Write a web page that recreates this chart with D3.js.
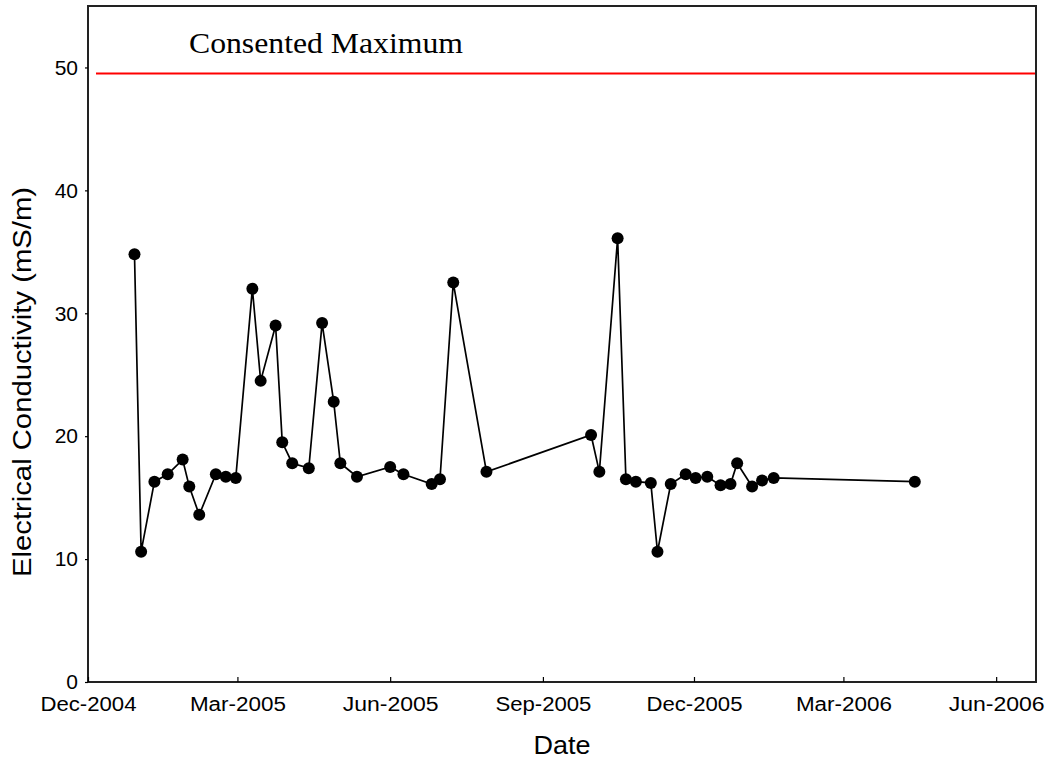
<!DOCTYPE html>
<html>
<head>
<meta charset="utf-8">
<script src="https://cdn.jsdelivr.net/npm/d3@7/dist/d3.min.js"></script>
<style>
  html, body { margin: 0; padding: 0; background: #fff; }
  svg { display: block; }
</style>
</head>
<body>
<svg id="chart" width="1052" height="763"></svg>
<script>
// ---- data ----
const sampleDates = [
  "2004-12-29","2005-01-02","2005-01-10","2005-01-18","2005-01-27","2005-01-31",
  "2005-02-06","2005-02-16","2005-02-22","2005-02-28","2005-03-10","2005-03-15",
  "2005-03-24","2005-03-28","2005-04-03","2005-04-13","2005-04-21","2005-04-28",
  "2005-05-02","2005-05-12","2005-06-01","2005-06-09","2005-06-26","2005-07-01",
  "2005-07-09","2005-07-29","2005-09-30","2005-10-05","2005-10-16","2005-10-21",
  "2005-10-27","2005-11-05","2005-11-09","2005-11-17","2005-11-26","2005-12-02",
  "2005-12-09","2005-12-17","2005-12-23","2005-12-27","2006-01-05","2006-01-11",
  "2006-01-18","2006-04-13"
];
const conductivity = [
  34.8, 10.6, 16.3, 16.9, 18.1, 15.9,
  13.6, 16.9, 16.7, 16.6, 32.0, 24.5,
  29.0, 19.5, 17.8, 17.4, 29.2, 22.8,
  17.8, 16.7, 17.5, 16.9, 16.1, 16.5,
  32.5, 17.1, 20.1, 17.1, 36.1, 16.5,
  16.3, 16.2, 10.6, 16.1, 16.9, 16.6,
  16.7, 16.0, 16.1, 17.8, 15.9, 16.4,
  16.6, 16.3
];
const xTickDates = ["2004-12-01","2005-03-01","2005-06-01","2005-09-01","2005-12-01","2006-03-01","2006-06-01"];
const xTickLabels = ["Dec-2004","Mar-2005","Jun-2005","Sep-2005","Dec-2005","Mar-2006","Jun-2006"];
const yTicks = [0, 10, 20, 30, 40, 50];
const xDomain = ["2004-12-01", "2006-06-25"];
const yDomain = [0, 55];
const consentedMaximum = 49.5;
const consentedLabel = "Consented Maximum";
const xTitle = "Date";
const yTitle = "Electrical Conductivity (mS/m)";

// ---- layout ----
const parse = d3.utcParse("%Y-%m-%d");
const svg = d3.select("#chart");
const L = 88, R = 1036, T = 6, B = 682;

const x = d3.scaleUtc().domain(xDomain.map(parse)).range([L, R]);
const y = d3.scaleLinear().domain(yDomain).range([B, T]);

const data = sampleDates.map((d, i) => ({ date: parse(d), value: conductivity[i] }));

// consented maximum line
svg.append("line")
  .attr("x1", L + 8).attr("x2", R - 1)
  .attr("y1", y(consentedMaximum)).attr("y2", y(consentedMaximum))
  .attr("stroke", "#ff0000").attr("stroke-width", 2);

svg.append("text")
  .attr("x", 189).attr("y", 53)
  .attr("font-family", "'Liberation Serif', 'Times New Roman', serif")
  .attr("font-size", 29)
  .attr("textLength", 274)
  .attr("lengthAdjust", "spacingAndGlyphs")
  .attr("fill", "#000")
  .text(consentedLabel);

// data line
svg.append("path")
  .datum(data)
  .attr("fill", "none")
  .attr("stroke", "#000")
  .attr("stroke-width", 1.7)
  .attr("d", d3.line().x(d => x(d.date)).y(d => y(d.value)));

svg.append("g").selectAll("circle")
  .data(data).join("circle")
  .attr("cx", d => x(d.date)).attr("cy", d => y(d.value))
  .attr("r", 6).attr("fill", "#000");

// frame
svg.append("rect")
  .attr("x", L).attr("y", T).attr("width", R - L).attr("height", B - T)
  .attr("fill", "none").attr("stroke", "#222").attr("stroke-width", 2);

// x axis
const xAxis = d3.axisBottom(x)
  .tickValues(xTickDates.map(parse))
  .tickFormat((d, i) => xTickLabels[i])
  .tickSizeInner(-5).tickSizeOuter(0).tickPadding(15);
const gx = svg.append("g").attr("transform", `translate(0,${B})`).call(xAxis);
gx.select(".domain").remove();
gx.selectAll("line").attr("stroke", "#000").attr("stroke-width", 1.2);
gx.selectAll("text")
  .attr("font-family", "'Liberation Sans', Arial, sans-serif")
  .attr("font-size", 20).attr("fill", "#000")
  .attr("textLength", 96).attr("lengthAdjust", "spacingAndGlyphs");

// y axis
const yAxis = d3.axisLeft(y)
  .tickValues(yTicks)
  .tickSizeInner(3).tickSizeOuter(0).tickPadding(7);
const gy = svg.append("g").attr("transform", `translate(${L},0)`).call(yAxis);
gy.select(".domain").remove();
gy.selectAll("line").attr("stroke", "#000").attr("stroke-width", 1.2);
gy.selectAll("text")
  .attr("font-family", "'Liberation Sans', Arial, sans-serif")
  .attr("font-size", 21).attr("fill", "#000");

// titles
svg.append("text")
  .attr("x", (L + R) / 2).attr("y", 754)
  .attr("text-anchor", "middle")
  .attr("font-family", "'Liberation Sans', Arial, sans-serif")
  .attr("font-size", 25).attr("fill", "#000")
  .attr("textLength", 57).attr("lengthAdjust", "spacingAndGlyphs")
  .text(xTitle);

svg.append("text")
  .attr("transform", `translate(31,382) rotate(-90)`)
  .attr("text-anchor", "middle")
  .attr("font-family", "'Liberation Sans', Arial, sans-serif")
  .attr("font-size", 25).attr("fill", "#000")
  .attr("textLength", 390).attr("lengthAdjust", "spacingAndGlyphs")
  .text(yTitle);
</script>
</body>
</html>
